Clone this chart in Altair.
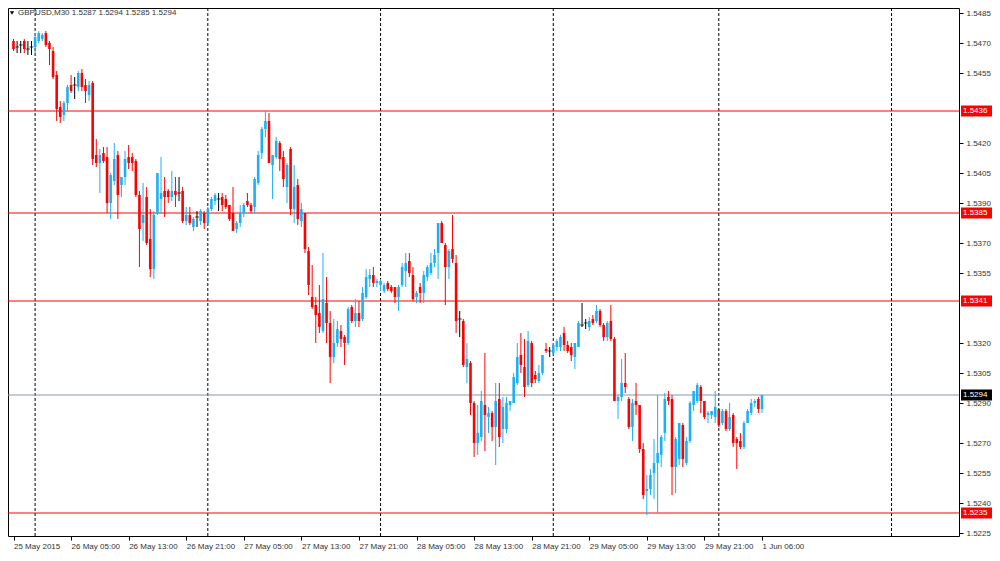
import altair as alt
import pandas as pd
import numpy as np

# ---- candle data (GBPUSD M30) ----
opens = [1.5471,1.5468,1.5469,1.5471,1.5467,1.5468,1.5468,1.5471,1.5472,1.5475,
         1.5470,1.5466,1.5454,1.5438,1.5434,1.5440,1.5449,1.5449,1.5448,1.5455,
         1.5449,1.5444,1.5450,1.5414,1.5410,1.5415,1.5413,1.5390,1.5401,1.5414,
         1.5399,1.5403,1.5413,1.5413,1.5411,1.5394,1.5380,1.5393,1.5372,1.5357,
         1.5385,1.5392,1.5396,1.5396,1.5393,1.5396,1.5395,1.5396,1.5381,1.5384,
         1.5378,1.5383,1.5381,1.5385,1.5380,1.5387,1.5391,1.5392,1.5393,1.5392,
         1.5389,1.5385,1.5377,1.5380,1.5385,1.5391,1.5389,1.5388,1.5400,1.5415,
         1.5427,1.5431,1.5409,1.5413,1.5420,1.5413,1.5398,1.5417,1.5387,1.5399,
         1.5381,1.5385,1.5366,1.5343,1.5339,1.5335,1.5326,1.5340,1.5330,1.5313,
         1.5320,1.5326,1.5323,1.5320,1.5338,1.5331,1.5335,1.5332,1.5343,1.5352,
         1.5354,1.5350,1.5349,1.5346,1.5350,1.5348,1.5348,1.5343,1.5349,1.5356,
         1.5361,1.5354,1.5343,1.5348,1.5345,1.5353,1.5355,1.5360,1.5365,1.5380,
         1.5369,1.5358,1.5367,1.5360,1.5332,1.5331,1.5308,1.5310,1.5290,1.5270,
         1.5273,1.5289,1.5283,1.5285,1.5278,1.5292,1.5277,1.5277,1.5289,1.5290,
         1.5300,1.5314,1.5308,1.5299,1.5320,1.5304,1.5301,1.5305,1.5317,1.5316,
         1.5315,1.5318,1.5318,1.5325,1.5319,1.5318,1.5313,1.5318,1.5329,1.5330,
         1.5328,1.5332,1.5331,1.5336,1.5329,1.5323,1.5331,1.5322,1.5291,1.5293,
         1.5300,1.5292,1.5278,1.5291,1.5289,1.5267,1.5246,1.5247,1.5255,1.5260,
         1.5264,1.5275,1.5293,1.5292,1.5258,1.5262,1.5279,1.5260,1.5271,1.5289,
         1.5291,1.5298,1.5291,1.5284,1.5284,1.5283,1.5287,1.5280,1.5286,1.5277,
         1.5284,1.5272,1.5271,1.5268,1.5280,1.5285,1.5290,1.5292,1.5287]
highs = [1.5472,1.5471,1.5471,1.5472,1.5471,1.5471,1.5475,1.5476,1.5475,1.5476,
         1.5471,1.5468,1.5456,1.5441,1.5441,1.5449,1.5454,1.5453,1.5456,1.5457,
         1.5452,1.5451,1.5451,1.5422,1.5417,1.5418,1.5418,1.5405,1.5420,1.5416,
         1.5403,1.5416,1.5419,1.5415,1.5412,1.5396,1.5400,1.5398,1.5387,1.5386,
         1.5405,1.5413,1.5403,1.5397,1.5406,1.5403,1.5403,1.5398,1.5388,1.5388,
         1.5383,1.5386,1.5387,1.5386,1.5388,1.5393,1.5395,1.5395,1.5395,1.5394,
         1.5389,1.5398,1.5381,1.5389,1.5390,1.5395,1.5390,1.5403,1.5416,1.5428,
         1.5436,1.5435,1.5414,1.5423,1.5421,1.5416,1.5410,1.5418,1.5409,1.5402,
         1.5390,1.5385,1.5368,1.5359,1.5343,1.5349,1.5365,1.5353,1.5336,1.5332,
         1.5331,1.5329,1.5324,1.5338,1.5339,1.5342,1.5341,1.5348,1.5357,1.5357,
         1.5358,1.5352,1.5352,1.5350,1.5351,1.5349,1.5348,1.5349,1.5360,1.5365,
         1.5365,1.5358,1.5346,1.5350,1.5356,1.5359,1.5365,1.5367,1.5380,1.5381,
         1.5370,1.5367,1.5384,1.5364,1.5336,1.5332,1.5320,1.5311,1.5291,1.5289,
         1.5296,1.5315,1.5288,1.5286,1.5300,1.5300,1.5293,1.5293,1.5291,1.5305,
         1.5320,1.5325,1.5322,1.5326,1.5321,1.5306,1.5309,1.5314,1.5320,1.5318,
         1.5320,1.5322,1.5324,1.5328,1.5321,1.5320,1.5320,1.5331,1.5340,1.5332,
         1.5333,1.5334,1.5339,1.5337,1.5330,1.5331,1.5339,1.5323,1.5294,1.5312,
         1.5315,1.5293,1.5292,1.5300,1.5289,1.5270,1.5254,1.5257,1.5272,1.5294,
         1.5274,1.5295,1.5296,1.5294,1.5273,1.5280,1.5280,1.5273,1.5291,1.5296,
         1.5300,1.5299,1.5291,1.5286,1.5286,1.5296,1.5287,1.5287,1.5287,1.5290,
         1.5285,1.5273,1.5275,1.5281,1.5287,1.5292,1.5292,1.5293,1.5294]
lows = [1.5466,1.5465,1.5465,1.5465,1.5464,1.5464,1.5465,1.5470,1.5471,1.5468,
        1.5459,1.5452,1.5431,1.5430,1.5431,1.5436,1.5445,1.5442,1.5446,1.5446,
        1.5440,1.5441,1.5409,1.5408,1.5395,1.5410,1.5385,1.5382,1.5399,1.5382,
        1.5393,1.5399,1.5407,1.5406,1.5393,1.5358,1.5371,1.5369,1.5353,1.5352,
        1.5384,1.5385,1.5383,1.5390,1.5391,1.5388,1.5391,1.5380,1.5379,1.5379,
        1.5376,1.5378,1.5379,1.5377,1.5379,1.5386,1.5389,1.5386,1.5386,1.5387,
        1.5381,1.5376,1.5375,1.5378,1.5383,1.5388,1.5385,1.5385,1.5399,1.5412,
        1.5423,1.5410,1.5392,1.5412,1.5406,1.5398,1.5390,1.5384,1.5380,1.5379,
        1.5378,1.5365,1.5344,1.5337,1.5320,1.5325,1.5325,1.5320,1.5300,1.5310,
        1.5318,1.5318,1.5309,1.5319,1.5330,1.5328,1.5328,1.5331,1.5342,1.5348,
        1.5348,1.5348,1.5346,1.5345,1.5346,1.5345,1.5340,1.5336,1.5348,1.5348,
        1.5353,1.5341,1.5340,1.5340,1.5340,1.5351,1.5354,1.5358,1.5352,1.5370,
        1.5339,1.5352,1.5360,1.5325,1.5323,1.5308,1.5300,1.5284,1.5263,1.5264,
        1.5271,1.5266,1.5275,1.5271,1.5259,1.5268,1.5270,1.5275,1.5286,1.5290,
        1.5299,1.5305,1.5293,1.5298,1.5298,1.5300,1.5300,1.5304,1.5315,1.5313,
        1.5314,1.5316,1.5316,1.5316,1.5315,1.5311,1.5307,1.5318,1.5328,1.5327,
        1.5326,1.5329,1.5330,1.5328,1.5321,1.5321,1.5321,1.5291,1.5282,1.5291,
        1.5295,1.5277,1.5271,1.5284,1.5265,1.5242,1.5234,1.5244,1.5242,1.5235,
        1.5258,1.5271,1.5289,1.5244,1.5245,1.5259,1.5258,1.5259,1.5270,1.5286,
        1.5290,1.5285,1.5282,1.5280,1.5282,1.5280,1.5278,1.5279,1.5276,1.5276,
        1.5268,1.5257,1.5267,1.5267,1.5280,1.5284,1.5288,1.5285,1.5285]
closes = [1.5467,1.5468,1.5469,1.5467,1.5467,1.5468,1.5473,1.5475,1.5474,1.5469,
          1.5467,1.5453,1.5437,1.5433,1.5440,1.5448,1.5446,1.5449,1.5455,1.5448,
          1.5446,1.5449,1.5412,1.5410,1.5414,1.5411,1.5390,1.5404,1.5412,1.5394,
          1.5403,1.5412,1.5410,1.5410,1.5394,1.5377,1.5384,1.5370,1.5357,1.5384,
          1.5405,1.5395,1.5393,1.5393,1.5396,1.5394,1.5395,1.5381,1.5384,1.5380,
          1.5382,1.5383,1.5386,1.5380,1.5387,1.5392,1.5394,1.5392,1.5389,1.5388,
          1.5382,1.5376,1.5380,1.5385,1.5389,1.5389,1.5386,1.5402,1.5414,1.5427,
          1.5431,1.5410,1.5414,1.5421,1.5412,1.5402,1.5409,1.5387,1.5398,1.5382,
          1.5387,1.5367,1.5349,1.5338,1.5334,1.5328,1.5342,1.5330,1.5313,1.5320,
          1.5327,1.5322,1.5320,1.5337,1.5331,1.5335,1.5331,1.5345,1.5353,1.5354,
          1.5350,1.5351,1.5351,1.5349,1.5347,1.5346,1.5343,1.5348,1.5358,1.5360,
          1.5355,1.5342,1.5345,1.5345,1.5354,1.5358,1.5360,1.5364,1.5380,1.5370,
          1.5358,1.5366,1.5362,1.5331,1.5332,1.5309,1.5312,1.5290,1.5270,1.5275,
          1.5291,1.5284,1.5285,1.5278,1.5291,1.5273,1.5288,1.5290,1.5291,1.5303,
          1.5313,1.5309,1.5298,1.5321,1.5300,1.5302,1.5305,1.5314,1.5316,1.5316,
          1.5319,1.5321,1.5323,1.5319,1.5316,1.5314,1.5320,1.5330,1.5329,1.5330,
          1.5331,1.5330,1.5336,1.5329,1.5323,1.5330,1.5322,1.5291,1.5293,1.5300,
          1.5298,1.5278,1.5290,1.5289,1.5267,1.5244,1.5247,1.5254,1.5260,1.5265,
          1.5273,1.5292,1.5291,1.5258,1.5272,1.5280,1.5262,1.5271,1.5290,1.5296,
          1.5299,1.5291,1.5283,1.5285,1.5286,1.5288,1.5279,1.5286,1.5277,1.5283,
          1.5270,1.5270,1.5268,1.5280,1.5286,1.5290,1.5291,1.5287,1.5294]

# separators (candle index of day starts) and time-axis labels
sep_idx = [6, 54, 102, 150, 196, 244]
time_tick_idx = [0, 16, 32, 48, 64, 80, 96, 112, 128, 144, 160, 176, 192, 208]
time_labels = ["25 May 2015", "26 May 05:00", "26 May 13:00", "26 May 21:00",
               "27 May 05:00", "27 May 13:00", "27 May 21:00", "28 May 05:00",
               "28 May 13:00", "28 May 21:00", "29 May 05:00", "29 May 13:00",
               "29 May 21:00", "1 Jun 06:00"]
price_ticks = [1.5485, 1.5470, 1.5455, 1.5420, 1.5405, 1.5390, 1.5370, 1.5355,
               1.5320, 1.5305, 1.5290, 1.5270, 1.5255, 1.5240, 1.5225]
red_levels = [1.5436, 1.5385, 1.5341, 1.5235]
current_level = [1.5294]

W, H = 951, 528
FONT = "Liberation Sans"
BLUE, RED = "#1CB0F6", "#FF0000"

df = pd.DataFrame({"i": np.arange(len(opens)), "o": opens, "h": highs,
                   "l": lows, "c": closes})
df["dir"] = np.where(df["c"] > df["o"], "up", np.where(df["c"] < df["o"], "down", "doji"))

xs = alt.Scale(domain=[-0.14, 261.36], nice=False, zero=False)
ys = alt.Scale(domain=[1.52235, 1.54875], nice=False, zero=False)
label_arr = "[" + ",".join("'" + s + "'" for s in time_labels) + "]"
x_axis = alt.Axis(values=time_tick_idx, labelExpr=label_arr + "[round(datum.value/16)]",
                  labelAlign="left", labelFlush=False, labelOverlap=False, grid=False,
                  domain=False, tickSize=4, tickColor="#000", labelPadding=2,
                  labelFont=FONT, labelFontSize=8, labelColor="#333", title=None)
y_axis = alt.Axis(orient="right", values=price_ticks, format=".4f", grid=False,
                  domain=False, tickSize=4, tickColor="#000", labelPadding=3,
                  labelFont=FONT, labelFontSize=8, labelColor="#333", title=None,
                  labelOverlap=False, labelFlush=False)


def X(f):
    return alt.X(f + ":Q", scale=xs, axis=x_axis)


def Y(f):
    return alt.Y(f + ":Q", scale=ys, axis=y_axis)


color = alt.Color("dir:N", scale=alt.Scale(domain=["up", "down", "doji"],
                                           range=[BLUE, RED, "#000000"]), legend=None)

seps = alt.Chart(pd.DataFrame({"i": sep_idx})).mark_rule(
    color="#000", strokeDash=[3, 2], strokeWidth=1).encode(x=X("i"))

lv = pd.DataFrame({"p": red_levels, "lab": [f"{v:.4f}" for v in red_levels]})
cur = pd.DataFrame({"p": current_level, "lab": [f"{v:.4f}" for v in current_level]})

red_lines = alt.Chart(lv).mark_rule(color=RED, strokeWidth=1).encode(y=Y("p"))
cur_line = alt.Chart(cur).mark_rule(color="#8797A8", strokeWidth=1).encode(y=Y("p"))

wicks = alt.Chart(df).mark_rule(strokeWidth=1).encode(
    x=X("i"), y=Y("l"), y2=alt.Y2("h"), color=color)
bodies = alt.Chart(df).transform_filter("datum.dir != 'doji'").mark_bar(size=2.6).encode(
    x=X("i"), y=Y("o"), y2=alt.Y2("c"), color=color)
dojis = alt.Chart(df).transform_filter("datum.dir == 'doji'").mark_tick(
    orient="horizontal", size=4, thickness=1, color="#000").encode(x=X("i"), y=Y("o"))


def level_box(data, fill):
    box = alt.Chart(data).transform_calculate(
        top="datum.p + 0.000275", bot="datum.p - 0.000275"
    ).mark_rect(color=fill).encode(
        x=alt.value(W + 2), x2=alt.value(W + 33), y=Y("top"), y2=alt.Y2("bot"))
    txt = alt.Chart(data).mark_text(align="left", baseline="middle", color="white",
                                    font=FONT, fontSize=8).encode(
        x=alt.value(W + 4), y=Y("p"), text="lab:N")
    return box + txt


header_txt = ("GBPUSD,M30  " + f"{opens[-1]:.4f} {highs[-1]:.4f} "
              f"{lows[-1]:.4f} {closes[-1]:.4f}")
header = alt.Chart(pd.DataFrame({"t": [header_txt]})).mark_text(
    align="left", baseline="middle", font=FONT, fontSize=8, color="#333").encode(
    x=alt.value(10), y=alt.value(5), text="t:N")
tri = alt.Chart(pd.DataFrame({"t": [1]})).mark_point(
    shape="triangle-down", filled=True, color="#000", size=18, opacity=1).encode(
    x=alt.value(4), y=alt.value(5))

chart = alt.layer(
    seps, red_lines, cur_line, wicks, bodies, dojis,
    level_box(lv, RED), level_box(cur, "#000000"), header, tri
).properties(
    width=W, height=H,
    autosize=alt.AutoSizeParams(type="none"),
    padding={"left": 0, "top": 0, "right": 33, "bottom": 15},
    background="white"
).configure_view(stroke="#000", strokeWidth=1)

chart.save("out.html", embed_options={"renderer": "svg", "actions": False})
